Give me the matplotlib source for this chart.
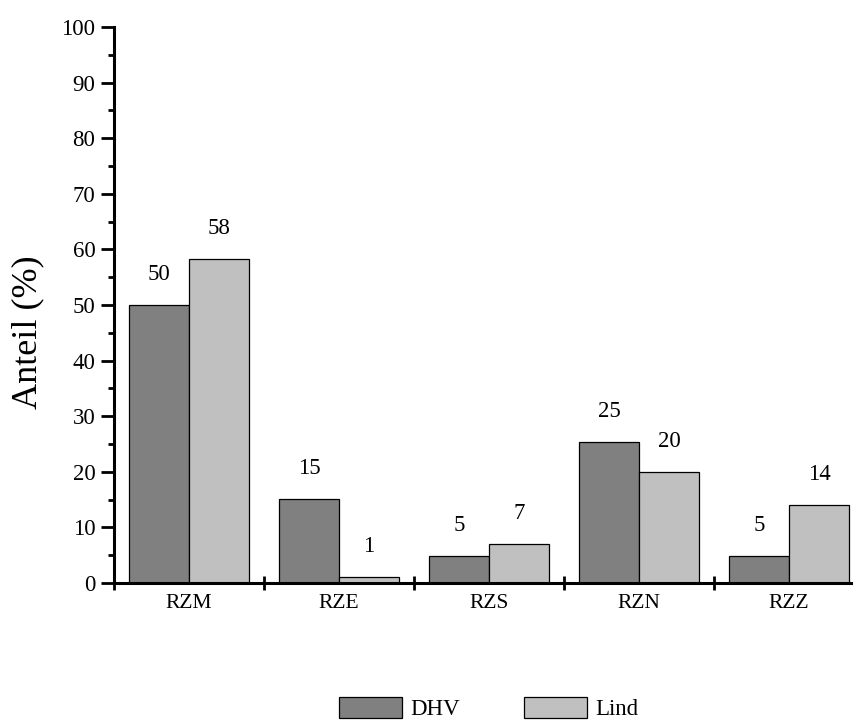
import matplotlib.pyplot as plt
import numpy as np

categories = ['RZM', 'RZE', 'RZS', 'RZN', 'RZZ']
dhv = [50.0, 15.1, 4.8, 25.3, 4.8]
lind = [58.3, 1.1, 7.0, 20.0, 14.0]
series_names = ['DHV', 'Lind']
y_ticks = list(range(0, 101, 10))

plt.rcParams['font.family'] = ['Liberation Serif', 'DejaVu Serif']

fig = plt.figure(figsize=(8.57, 7.2), dpi=100)
ax = fig.add_axes([114 / 857, 1 - 583 / 720, 737 / 857, 556 / 720])

x = np.arange(len(categories))
w = 0.4
b1 = ax.bar(x - w / 2, dhv, w, color='#808080', edgecolor='black', linewidth=0.9,
            label=series_names[0])
b2 = ax.bar(x + w / 2, lind, w, color='#c0c0c0', edgecolor='black', linewidth=0.9,
            label=series_names[1])

for bars, vals in [(b1, dhv), (b2, lind)]:
    for rect, v in zip(bars, vals):
        ax.text(rect.get_x() + rect.get_width() / 2, v + 5.5, f'{round(v):d}',
                ha='center', va='center', fontsize=16.5)

ax.set_xlim(-0.5, 4.413)
ax.set_ylim(0, 100)
ax.set_yticks(y_ticks)
ax.set_yticks(range(5, 100, 10), minor=True)
ax.set_xticks(np.arange(-0.5, 4.0, 1.0))
ax.set_xticklabels([])
ax.set_xticks(x, minor=True)
ax.set_xticklabels(categories, minor=True, fontsize=15.5)

for s in ['top', 'right']:
    ax.spines[s].set_visible(False)
for s in ['left', 'bottom']:
    ax.spines[s].set_linewidth(2.2)

ax.tick_params(axis='y', which='major', direction='out', length=9.5, width=2,
               labelsize=16.5, pad=4)
ax.tick_params(axis='y', which='minor', direction='out', length=4.5, width=2)
ax.tick_params(axis='x', which='major', direction='inout', length=9.5, width=2)
ax.tick_params(axis='x', which='minor', length=0, pad=8)

fig.text(28 / 857, 1 - 332 / 720, 'Anteil (%)', rotation=90, ha='center',
         va='center', fontsize=26)

fig.legend(handles=[b1, b2], labels=series_names, loc='upper left',
           bbox_to_anchor=(339 / 857, 1 - 697 / 720), ncol=2, frameon=False,
           fontsize=16.5, handlelength=2.75, handleheight=1.0,
           handletextpad=0.35, columnspacing=2.8, borderpad=0,
           borderaxespad=0)

fig.savefig('out.png', dpi=100)
